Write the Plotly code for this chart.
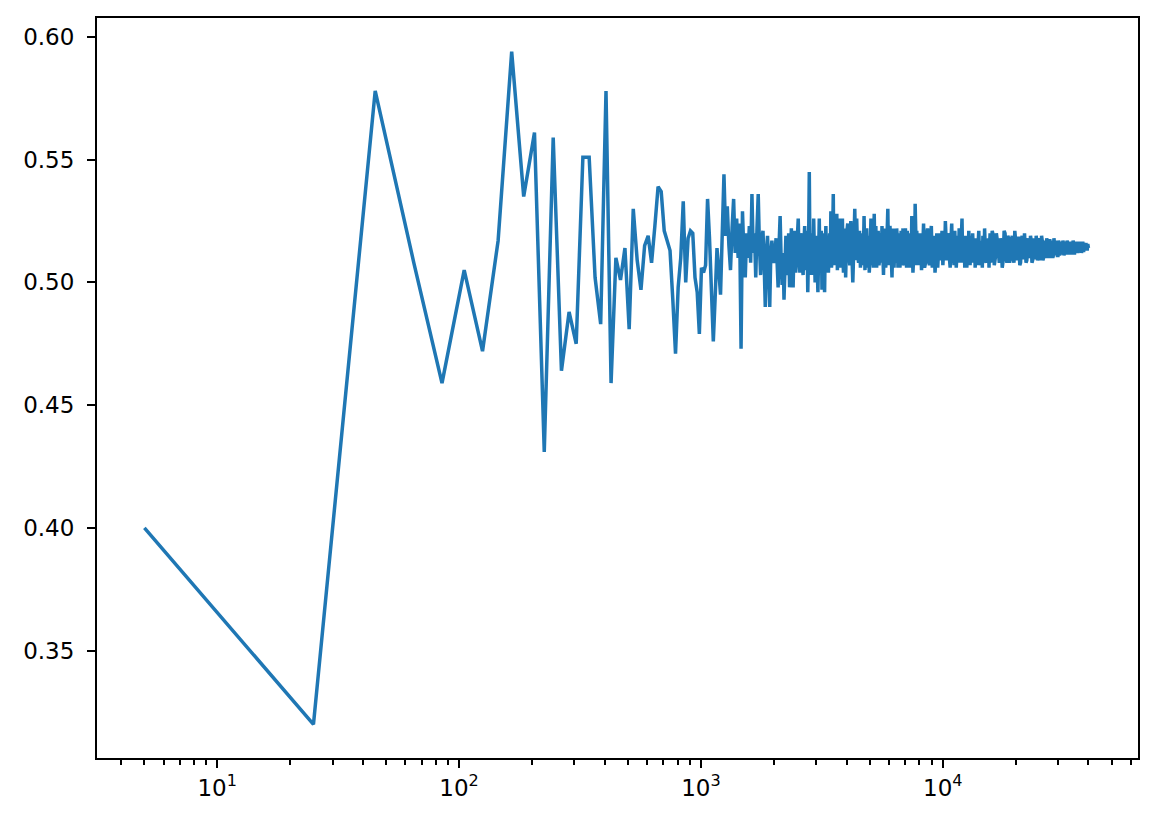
import plotly.graph_objects as go

# trial counts and running ratio
# early part: every 20th trial from 5 to 1165
early_n = list(range(5, 1166, 20))
early_ratio = [
    0.400, 0.320, 0.578, 0.508, 0.459, 0.505, 0.472, 0.517, 0.594, 0.535,
    0.561, 0.431, 0.559, 0.464, 0.488, 0.475, 0.551, 0.551, 0.502, 0.483,
    0.578, 0.459, 0.510, 0.501, 0.514, 0.481, 0.530, 0.509, 0.497, 0.515,
    0.519, 0.508, 0.523, 0.539, 0.537, 0.521, 0.517, 0.513, 0.493, 0.471,
    0.498, 0.510, 0.533, 0.500, 0.518, 0.521, 0.520, 0.502, 0.496, 0.479,
    0.506, 0.504, 0.507, 0.534, 0.518, 0.497, 0.476, 0.494, 0.514,
]

# dense part, sampled more coarsely as the trial count grows
dense_n = (list(range(1185, 2006, 20)) + list(range(2045, 4006, 20))
           + list(range(4045, 8006, 40)) + list(range(8085, 16006, 80))
           + list(range(16165, 40006, 160)))
dense_ratio = [
    # 1185 - 2005
    0.505, 0.495, 0.520, 0.544, 0.519, 0.531, 0.515, 0.505, 0.522, 0.534,
    0.512, 0.526, 0.510, 0.524, 0.473, 0.529, 0.512, 0.502, 0.520, 0.510,
    0.523, 0.508, 0.536, 0.512, 0.520, 0.502, 0.522, 0.536, 0.515, 0.503,
    0.518, 0.521, 0.508, 0.490, 0.512, 0.519, 0.505, 0.490, 0.512, 0.517,
    0.510, 0.508,
    # 2045 - 4005
    0.518, 0.505, 0.498, 0.516, 0.527, 0.510, 0.499, 0.512, 0.493, 0.506,
    0.519, 0.503, 0.508, 0.520, 0.498, 0.511, 0.522, 0.507, 0.498, 0.514,
    0.521, 0.504, 0.510, 0.519, 0.526, 0.509, 0.504, 0.520, 0.518, 0.507,
    0.503, 0.516, 0.523, 0.505, 0.510, 0.521, 0.496, 0.513, 0.545, 0.506,
    0.515, 0.503, 0.520, 0.508, 0.526, 0.512, 0.500, 0.519, 0.515, 0.506,
    0.496, 0.514, 0.526, 0.505, 0.510, 0.521, 0.497, 0.512, 0.520, 0.507,
    0.496, 0.515, 0.523, 0.506, 0.510, 0.519, 0.504, 0.515, 0.520, 0.507,
    0.529, 0.506, 0.510, 0.520, 0.536, 0.507, 0.515, 0.522, 0.508, 0.519,
    0.528, 0.505, 0.512, 0.520, 0.509, 0.518, 0.526, 0.506, 0.515, 0.508,
    0.526, 0.510, 0.504, 0.518, 0.515, 0.522, 0.502, 0.511, 0.520,
    # 4045 - 8005
    0.524, 0.512, 0.507, 0.525, 0.516, 0.500, 0.514, 0.530, 0.509, 0.526,
    0.512, 0.508, 0.521, 0.506, 0.512, 0.520, 0.507, 0.527, 0.505, 0.512,
    0.522, 0.506, 0.519, 0.504, 0.511, 0.526, 0.507, 0.514, 0.506, 0.528,
    0.509, 0.523, 0.506, 0.512, 0.521, 0.507, 0.510, 0.520, 0.508, 0.523,
    0.512, 0.503, 0.517, 0.522, 0.506, 0.510, 0.520, 0.530, 0.507, 0.513,
    0.523, 0.518, 0.510, 0.502, 0.515, 0.522, 0.506, 0.512, 0.521, 0.508,
    0.522, 0.518, 0.506, 0.510, 0.520, 0.506, 0.509, 0.521, 0.507, 0.514,
    0.522, 0.508, 0.507, 0.516, 0.522, 0.510, 0.506, 0.521, 0.518, 0.512,
    0.520, 0.511, 0.506, 0.518, 0.511, 0.527, 0.516, 0.504, 0.509, 0.516,
    0.507, 0.532, 0.519, 0.512, 0.521, 0.508, 0.507, 0.520, 0.508, 0.514,
    # 8085 - 16005
    0.520, 0.505, 0.511, 0.524, 0.506, 0.508, 0.519, 0.522, 0.509, 0.507,
    0.518, 0.523, 0.506, 0.510, 0.519, 0.504, 0.510, 0.520, 0.506, 0.512,
    0.520, 0.509, 0.512, 0.521, 0.507, 0.514, 0.509, 0.525, 0.516, 0.509,
    0.520, 0.518, 0.510, 0.506, 0.517, 0.524, 0.508, 0.512, 0.507, 0.521,
    0.513, 0.506, 0.512, 0.519, 0.508, 0.522, 0.514, 0.508, 0.518, 0.526,
    0.508, 0.513, 0.519, 0.506, 0.511, 0.519, 0.506, 0.512, 0.508, 0.521,
    0.513, 0.507, 0.519, 0.516, 0.508, 0.520, 0.513, 0.510, 0.518, 0.506,
    0.512, 0.518, 0.507, 0.511, 0.515, 0.521, 0.511, 0.507, 0.509, 0.516,
    0.517, 0.506, 0.519, 0.514, 0.508, 0.522, 0.515, 0.509, 0.508, 0.517,
    0.508, 0.511, 0.518, 0.506, 0.515, 0.520, 0.508, 0.512, 0.516, 0.521,
    # 16165 - 40005
    0.519, 0.507, 0.510, 0.520, 0.517, 0.509, 0.508, 0.518, 0.516, 0.506,
    0.509, 0.521, 0.520, 0.511, 0.508, 0.519, 0.518, 0.508, 0.510, 0.517,
    0.519, 0.510, 0.508, 0.521, 0.517, 0.509, 0.509, 0.518, 0.518, 0.507,
    0.508, 0.516, 0.519, 0.510, 0.510, 0.520, 0.516, 0.508, 0.509, 0.517,
    0.518, 0.511, 0.510, 0.519, 0.517, 0.508, 0.509, 0.516, 0.518, 0.510,
    0.510, 0.519, 0.516, 0.509, 0.510, 0.517, 0.518, 0.511, 0.509, 0.519,
    0.517, 0.509, 0.510, 0.516, 0.517, 0.511, 0.510, 0.518, 0.516, 0.510,
    0.511, 0.517, 0.517, 0.511, 0.510, 0.516, 0.517, 0.510, 0.511, 0.518,
    0.516, 0.511, 0.511, 0.516, 0.517, 0.511, 0.511, 0.517, 0.516, 0.511,
    0.512, 0.516, 0.516, 0.512, 0.512, 0.517, 0.516, 0.511, 0.512, 0.516,
    0.516, 0.512, 0.512, 0.517, 0.516, 0.512, 0.512, 0.516, 0.516, 0.512,
    0.512, 0.516, 0.516, 0.512, 0.512, 0.517, 0.516, 0.512, 0.512, 0.516,
    0.516, 0.512, 0.513, 0.516, 0.516, 0.512, 0.513, 0.516, 0.516, 0.513,
    0.513, 0.516, 0.515, 0.512, 0.513, 0.516, 0.516, 0.513, 0.513, 0.516,
    0.515, 0.513, 0.513, 0.516, 0.515, 0.513, 0.513, 0.515, 0.515, 0.514,
]

x_ticks = [10, 100, 1000, 10000]
x_labels = ["10<sup>1</sup>", "10<sup>2</sup>", "10<sup>3</sup>", "10<sup>4</sup>"]
y_ticks = [0.35, 0.40, 0.45, 0.50, 0.55, 0.60]
y_labels = ["0.35", "0.40", "0.45", "0.50", "0.55", "0.60"]

minor_x = [m * 10 ** k for k in range(0, 5) for m in range(2, 10)]

fig = go.Figure()
fig.add_trace(go.Scatter(
    x=early_n + dense_n,
    y=early_ratio + dense_ratio,
    mode="lines",
    line=dict(color="#1f77b4", width=3.5),
    showlegend=False,
))

axis_style = dict(
    showline=True, mirror=True, linecolor="black", linewidth=2,
    ticks="outside", ticklen=8, tickwidth=2, tickcolor="black",
    showgrid=False, zeroline=False,
    tickfont=dict(family="DejaVu Sans", size=23, color="black"),
)

fig.update_xaxes(
    type="log", range=[0.503, 4.807],
    tickvals=x_ticks, ticktext=x_labels,
    minor=dict(tickvals=minor_x, ticks="outside", ticklen=5, tickwidth=1.5,
               tickcolor="black", showgrid=False),
    **axis_style,
)
fig.update_yaxes(
    range=[0.3063, 0.6077],
    tickvals=y_ticks, ticktext=y_labels,
    ticklabelstandoff=8,
    **axis_style,
)

fig.update_layout(
    width=1158, height=824,
    margin=dict(l=97, r=20, t=18, b=66),
    paper_bgcolor="white", plot_bgcolor="white",
)

fig.write_html("out.html", config={"displayModeBar": False},
               post_script="document.body.style.margin = '0';")
